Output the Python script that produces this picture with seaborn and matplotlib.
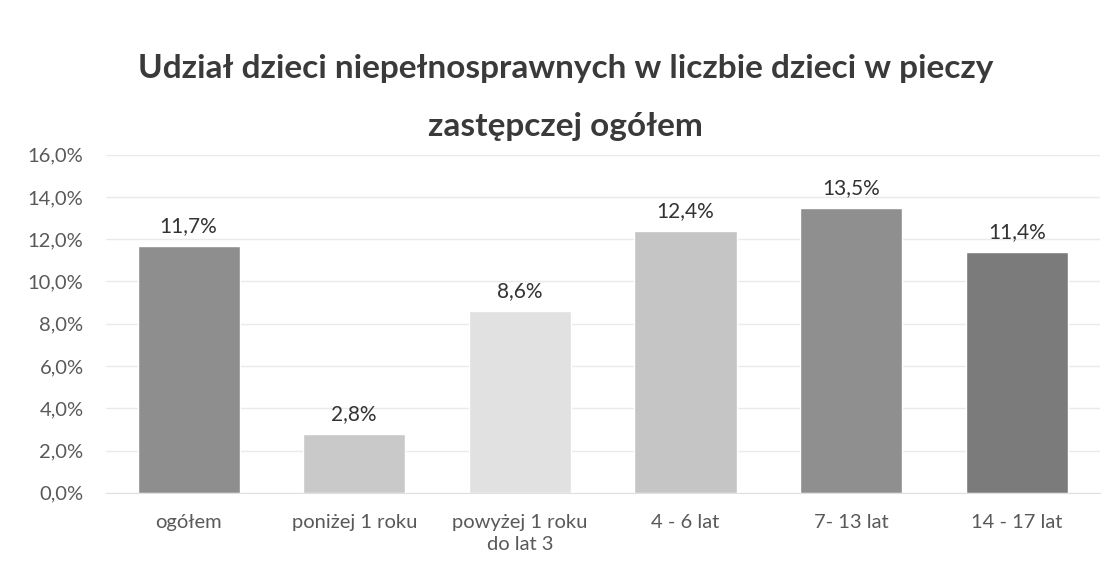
import matplotlib
matplotlib.use("Agg")
import matplotlib.pyplot as plt
import seaborn as sns
import pandas as pd
from matplotlib.ticker import FuncFormatter

# Dane
kategorie = ['ogółem', 'poniżej 1 roku', 'powyżej 1 roku\ndo lat 3', '4 - 6 lat', '7- 13 lat', '14 - 17 lat']
udzial = [11.7, 2.8, 8.6, 12.4, 13.5, 11.4]
kolory = ['#8e8e8e', '#c9c9c9', '#e1e1e1', '#c5c5c5', '#8f8f8f', '#7b7b7b']

df = pd.DataFrame({'Kategoria': kategorie, 'Udzial': udzial})

sns.set_style("white")
plt.rcParams['font.family'] = ['Lato', 'DejaVu Sans']

fig, ax = plt.subplots(figsize=(11.13, 5.73), dpi=100)
fig.subplots_adjust(left=0.095, right=0.988, top=0.73, bottom=0.14)

sns.barplot(data=df, x='Kategoria', y='Udzial', hue='Kategoria',
            palette=kolory, legend=False, width=0.616, ax=ax, saturation=1)

for i, v in enumerate(udzial):
    ax.text(i, v + 0.45, f"{v:.1f}%".replace('.', ','), ha='center', va='bottom',
            fontsize=15, color='#333333')

ax.set_ylim(0, 16)
ax.set_yticks(range(0, 17, 2))
ax.yaxis.set_major_formatter(FuncFormatter(lambda y, _: f"{y:.1f}%".replace('.', ',')))
ax.tick_params(axis='both', labelsize=14.5, colors='#595959', length=0)
ax.tick_params(axis='x', pad=15)
ax.tick_params(axis='y', pad=16)
for lab in ax.get_xticklabels():
    lab.set_linespacing(1.4)
ax.grid(axis='y', color='#eaeaea', linewidth=1)
ax.set_axisbelow(True)
for s in ['top', 'right', 'left']:
    ax.spines[s].set_visible(False)
ax.spines['bottom'].set_color('#e0e0e0')
ax.set_xlabel('')
ax.set_ylabel('')

fig.suptitle("Udział dzieci niepełnosprawnych w liczbie dzieci w pieczy\nzastępczej ogółem",
             fontsize=24, fontweight='bold', color='#3a3a3a', y=0.905, x=0.508, linespacing=2.2)

fig.savefig('out.png', dpi=100)
